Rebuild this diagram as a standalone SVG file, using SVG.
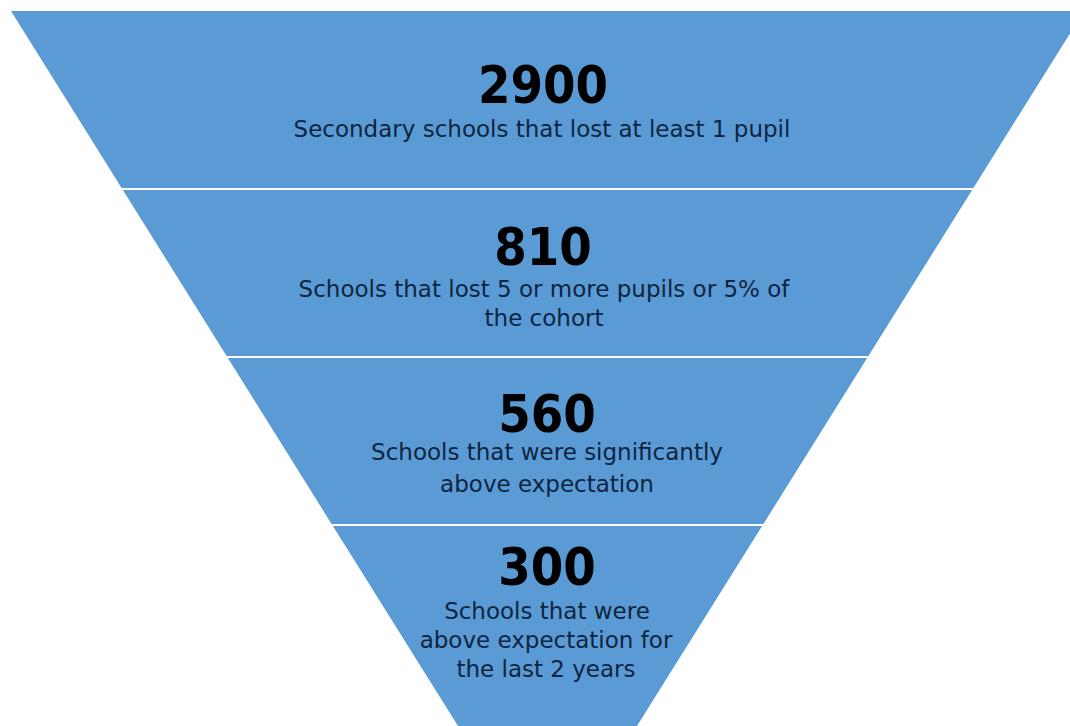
<svg xmlns="http://www.w3.org/2000/svg" width="1070" height="726" viewBox="0 0 1070 726">
<style>
.band{fill:#5b9bd5}
.num{font-family:"DejaVu Sans Condensed","DejaVu Sans",sans-serif;font-weight:bold;font-size:52px;fill:#000;text-anchor:middle}
.lbl{font-family:"DejaVu Sans",sans-serif;font-size:23px;fill:#0d2440;text-anchor:middle}
</style>
<rect width="1070" height="726" fill="#fff"/>
<g id="band1">
<polygon class="band" points="11,11 1084,11 973.4,188 121.6,188"/>
<text class="num" x="543" y="103">2900</text>
<text class="lbl" x="542" y="137">Secondary schools that lost at least 1 pupil</text>
</g>
<g id="band2">
<polygon class="band" points="122.9,190 972.1,190 868.4,356 226.6,356"/>
<text class="num" x="543" y="265">810</text>
<text class="lbl" x="544" y="297">Schools that lost 5 or more pupils or 5% of</text>
<text class="lbl" x="544" y="326">the cohort</text>
</g>
<g id="band3">
<polygon class="band" points="227.9,358 867.1,358 763.4,524 331.6,524"/>
<text class="num" x="547" y="432">560</text>
<text class="lbl" x="547" y="460">Schools that were significantly</text>
<text class="lbl" x="547" y="492">above expectation</text>
</g>
<g id="band4">
<polygon class="band" points="332.9,526 762.1,526 637,726 458,726"/>
<text class="num" x="547" y="585">300</text>
<text class="lbl" x="547" y="619">Schools that were</text>
<text class="lbl" x="546" y="648">above expectation for</text>
<text class="lbl" x="546" y="677">the last 2 years</text>
</g>
</svg>
